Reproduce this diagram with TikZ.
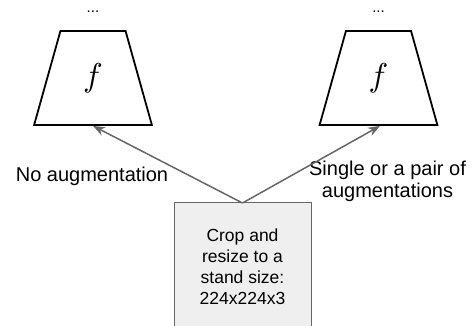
\documentclass[tikz,border=0pt]{standalone}
\usepackage{fontspec}
\setmainfont{Liberation Sans}
\usetikzlibrary{shapes.geometric,arrows.meta}
\definecolor{edgegray}{HTML}{666666}
\definecolor{boxfill}{HTML}{EFEFEF}
\tikzset{
  encoder/.style={draw=black, line width=1.8pt, trapezium, trapezium stretches=true,
    trapezium left angle=74.8, trapezium right angle=74.8,
    minimum width=118pt, minimum height=94pt, inner sep=0pt},
  dots/.style={font=\fontsize{15}{16}\selectfont},
  lbl/.style={font=\fontsize{20}{22}\selectfont, align=center},
  cropbox/.style={draw=edgegray, fill=boxfill, line width=1pt},
  boxtext/.style={font=\fontsize{17.5}{21}\selectfont, align=center},
  feed/.style={draw=edgegray, line width=1.5pt, -{Stealth[length=12pt,width=9pt]}}
}
\begin{document}
\begin{tikzpicture}[x=1pt,y=-1pt]
  \useasboundingbox (0,0) rectangle (475,326);
  \clip (0,0) rectangle (475,326);
  % input box, running off the lower edge
  \draw[cropbox] (174,203) rectangle (311,330);
  \coordinate (boxtop) at (242.5,203);
  \node[boxtext] (croptxt) at (242.5,267) {Crop and\\resize to a\\stand size:\\224x224x3};
  % the two encoders
  \node[encoder] (encl) at (93,78) {\scalebox{3.3}{$f$}};
  \node[encoder] (encr) at (378.5,78) {\scalebox{3.3}{$f$}};
  \node[dots] (dotsl) at (93,12) {...};
  \node[dots] (dotsr) at (378.5,12) {...};
  % labels
  \node[lbl, anchor=base] (noaug) at (92,182) {No augmentation};
  \node[lbl] (aug) at (387.5,181) {Single or a pair of\\augmentations};
  % connectors
  \draw[feed] (boxtop) -- (encl.south);
  \draw[feed] (boxtop) -- ([xshift=1.5pt]encr.south);
\end{tikzpicture}
\end{document}
